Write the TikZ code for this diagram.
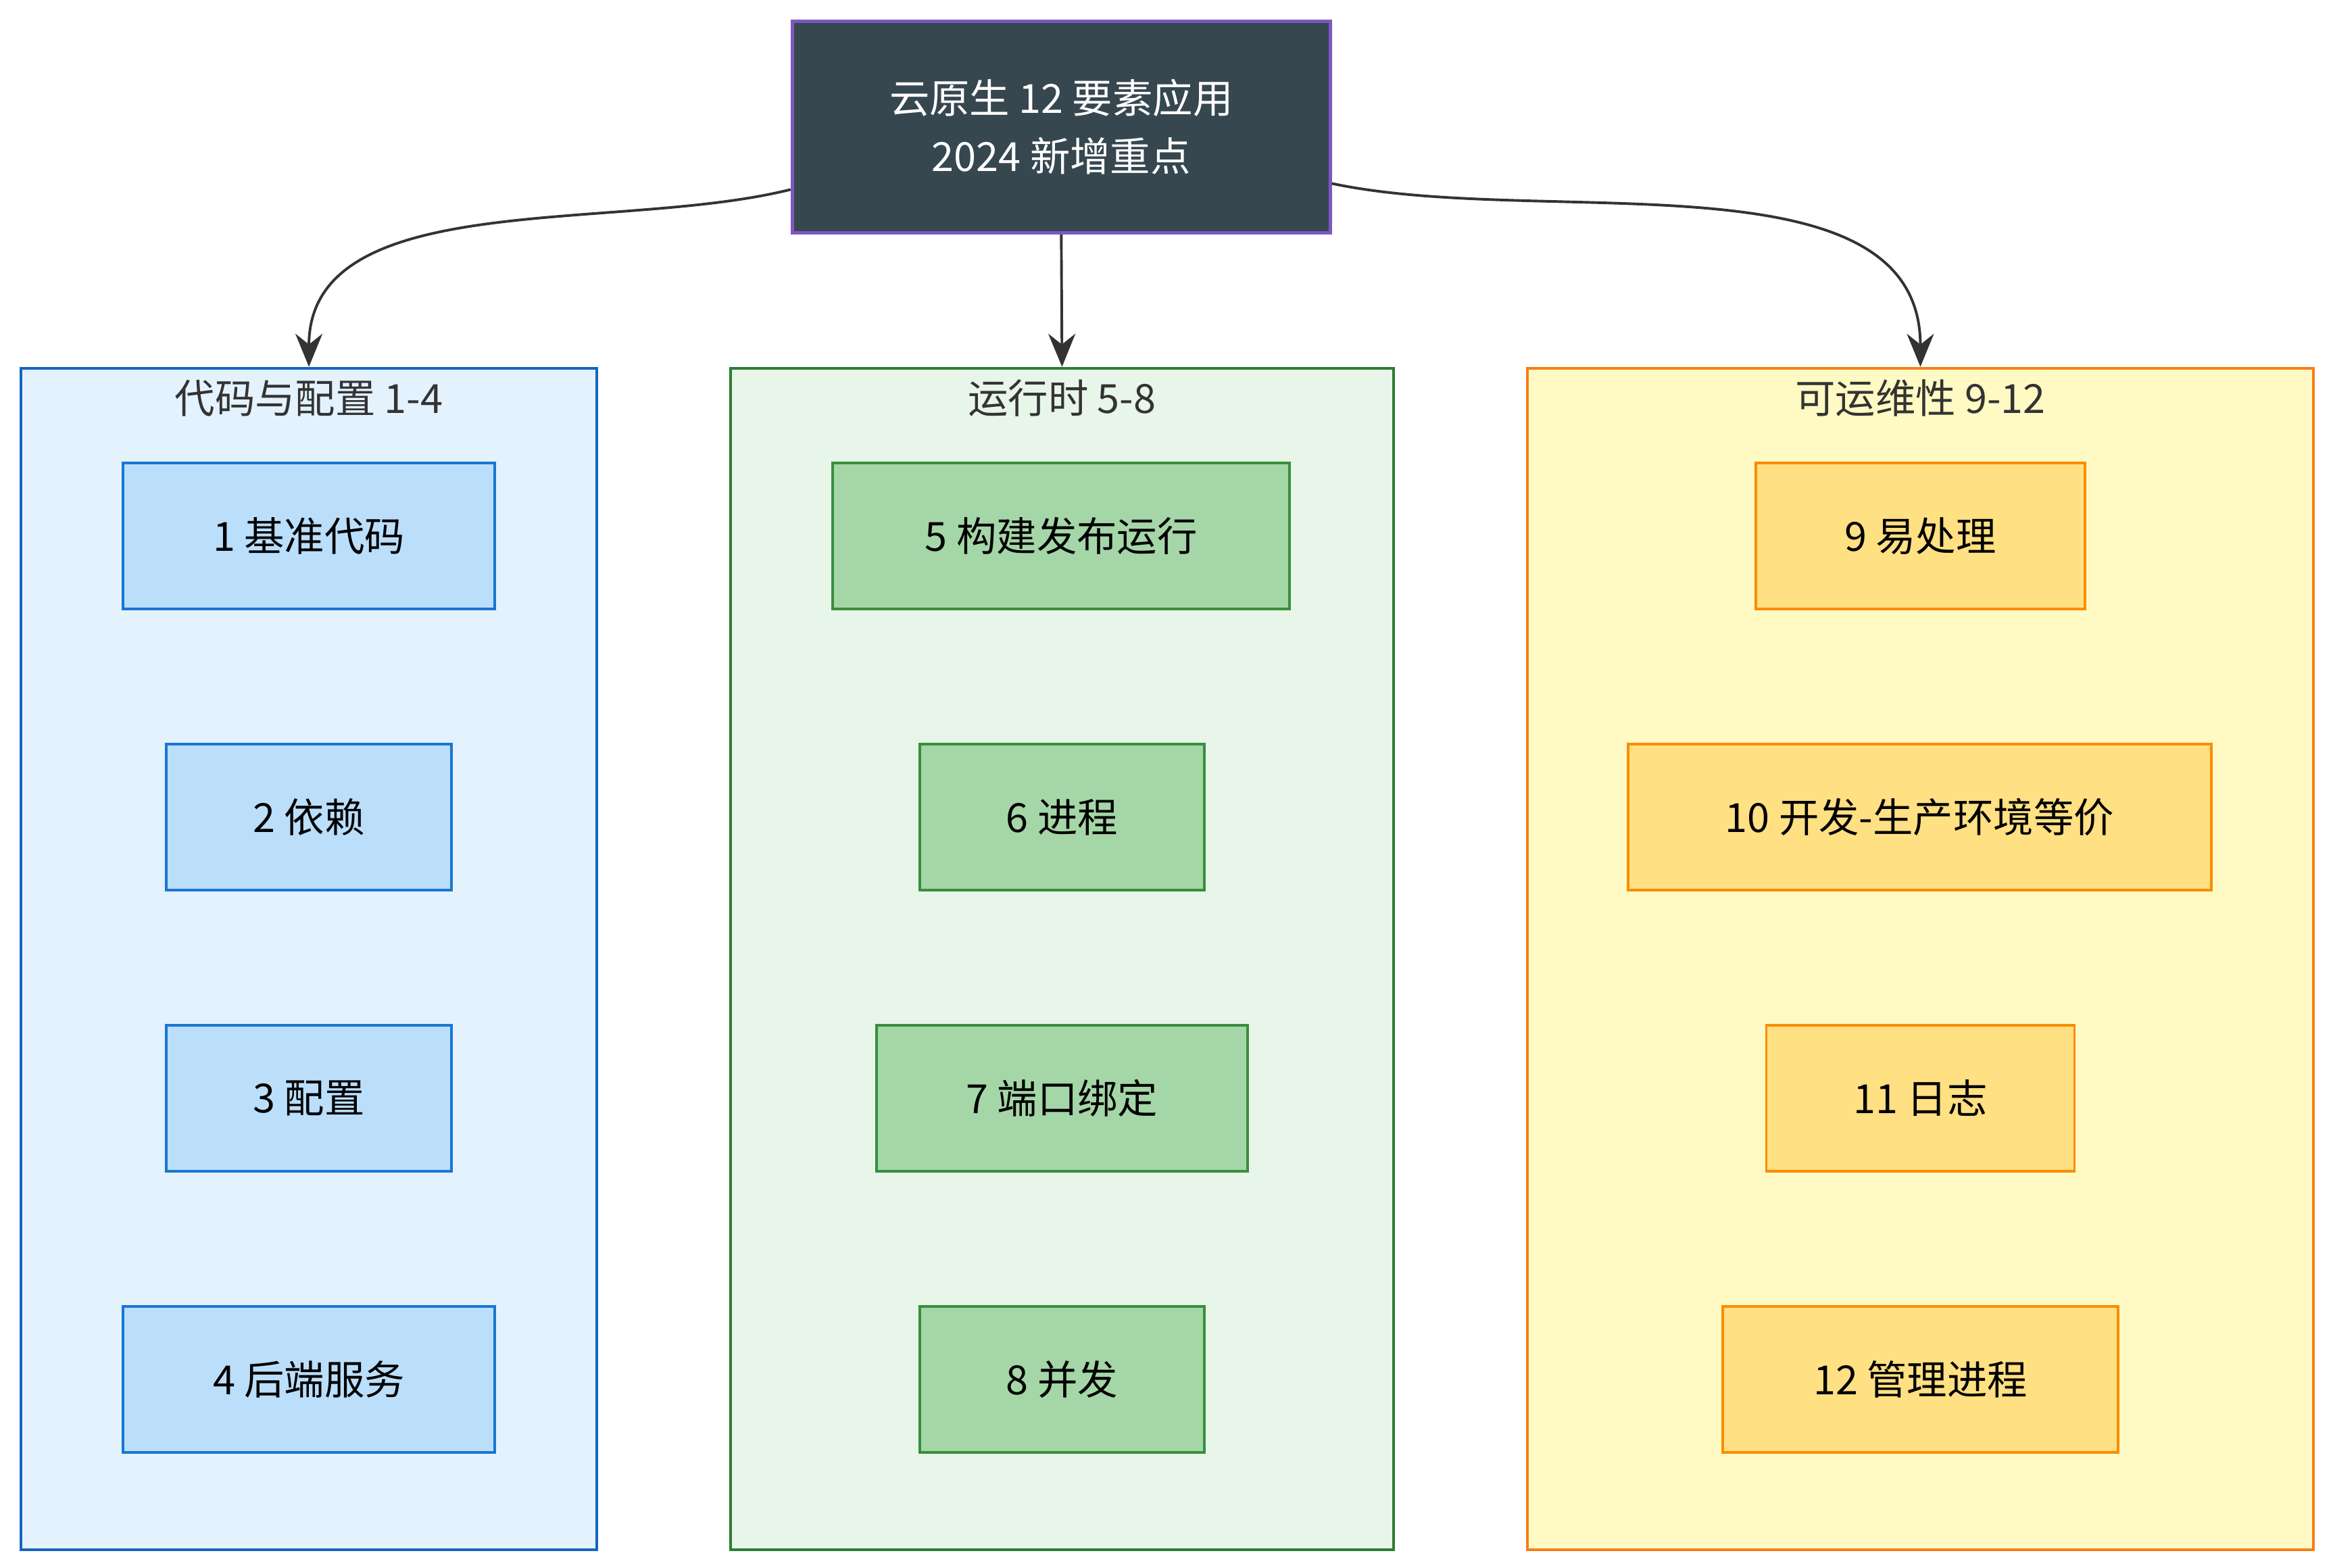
\documentclass[tikz,border=0pt]{standalone}
\usepackage{fontspec}
\setmainfont{Noto Sans CJK SC}
\usetikzlibrary{arrows.meta}
\definecolor{topfill}{HTML}{37474F}
\definecolor{topline}{HTML}{7E57C2}
\definecolor{bluefill}{HTML}{E3F2FD}
\definecolor{blueline}{HTML}{1565C0}
\definecolor{bluebox}{HTML}{BBDEFB}
\definecolor{blueboxline}{HTML}{1976D2}
\definecolor{greenfill}{HTML}{E8F5E9}
\definecolor{greenline}{HTML}{2E7D32}
\definecolor{greenbox}{HTML}{A5D6A7}
\definecolor{greenboxline}{HTML}{388E3C}
\definecolor{yellowfill}{HTML}{FFF9C4}
\definecolor{orangeline}{HTML}{F57F17}
\definecolor{yellowbox}{HTML}{FFE082}
\definecolor{orangeboxline}{HTML}{FB8C00}
\definecolor{textdark}{HTML}{333333}
\begin{document}
\begin{tikzpicture}[
	x=0.1mm, y=-0.1mm,
	every node/.style={font=\fontsize{7.6}{11}\selectfont, text=black},
	cluster/.style={draw, rectangle, anchor=north, inner sep=0pt, line width=0.5pt},
	box/.style={draw, rectangle, minimum height=9.7mm, inner sep=0pt, line width=0.5pt},
	title/.style={text=textdark},
	>={Stealth[length=2.2mm,width=1.8mm]}
	]
	\useasboundingbox (0,0) rectangle (1552,1043);
	
	%-----------------------
	% Row heights
	%-----------------------
	\def\hA{356.5}
	\def\hB{543.5}
	\def\hC{730.5}
	\def\hD{917.5}
	
	%-----------------------
	% Top node
	%-----------------------
	\node[draw=topline, fill=topfill, minimum width=35.8mm, minimum height=14.1mm, align=center, text=white, line width=0.6pt] (top) at (706,84.5) {云原生 12 要素应用\\2024 新增重点};
	
	%-----------------------
	% Clusters
	%-----------------------
	\node[cluster, draw=blueline, fill=bluefill, minimum width=38.3mm, minimum height=78.6mm] (code) at (205.5,244) {};
	\node[cluster, draw=greenline, fill=greenfill, minimum width=44.1mm, minimum height=78.6mm] (run) at (706.5,244) {};
	\node[cluster, draw=orangeline, fill=yellowfill, minimum width=52.3mm, minimum height=78.6mm] (ops) at (1277.5,244) {};
	\node[title] (code-t) at (205.5,265) {代码与配置 1-4};
	\node[title] (run-t) at (706.5,265) {运行时 5-8};
	\node[title] (ops-t) at (1277.5,265) {可运维性 9-12};
	
	%-----------------------
	% Column 1: code and config
	%-----------------------
	\tikzset{bbox/.style={box, fill=bluebox, draw=blueboxline}}
	\node[bbox, minimum width=24.7mm] (f1) at (205.5,\hA) {1 基准代码};
	\node[bbox, minimum width=19mm] (f2) at (205.5,\hB) {2 依赖};
	\node[bbox, minimum width=19mm] (f3) at (205.5,\hC) {3 配置};
	\node[bbox, minimum width=24.7mm] (f4) at (205.5,\hD) {4 后端服务};
	
	%-----------------------
	% Column 2: runtime
	%-----------------------
	\tikzset{gbox/.style={box, fill=greenbox, draw=greenboxline}}
	\node[gbox, minimum width=30.4mm] (f5) at (706,\hA) {5 构建发布运行};
	\node[gbox, minimum width=18.9mm] (f6) at (706.5,\hB) {6 进程};
	\node[gbox, minimum width=24.7mm] (f7) at (706.5,\hC) {7 端口绑定};
	\node[gbox, minimum width=18.9mm] (f8) at (706.5,\hD) {8 并发};
	
	%-----------------------
	% Column 3: operability
	%-----------------------
	\tikzset{ybox/.style={box, fill=yellowbox, draw=orangeboxline}}
	\node[ybox, minimum width=21.9mm] (f9) at (1277.5,\hA) {9 易处理};
	\node[ybox, minimum width=38.8mm] (f10) at (1277,\hB) {10 开发-生产环境等价};
	\node[ybox, minimum width=20.5mm] (f11) at (1277.5,\hC) {11 日志};
	\node[ybox, minimum width=26.3mm] (f12) at (1277.5,\hD) {12 管理进程};
	
	%-----------------------
	% Connections
	%-----------------------
	\tikzset{connect/.style={->, draw=textdark, line width=0.5pt}}
	\draw[connect] ([yshift=3mm]top.south west) to[out=194, in=90, looseness=0.9] (code.north);
	\draw[connect] (top.south) -- (run.north);
	\draw[connect] ([yshift=3.4mm]top.south east) to[out=-12, in=90, looseness=0.9] (ops.north);
	
\end{tikzpicture}
\end{document}
